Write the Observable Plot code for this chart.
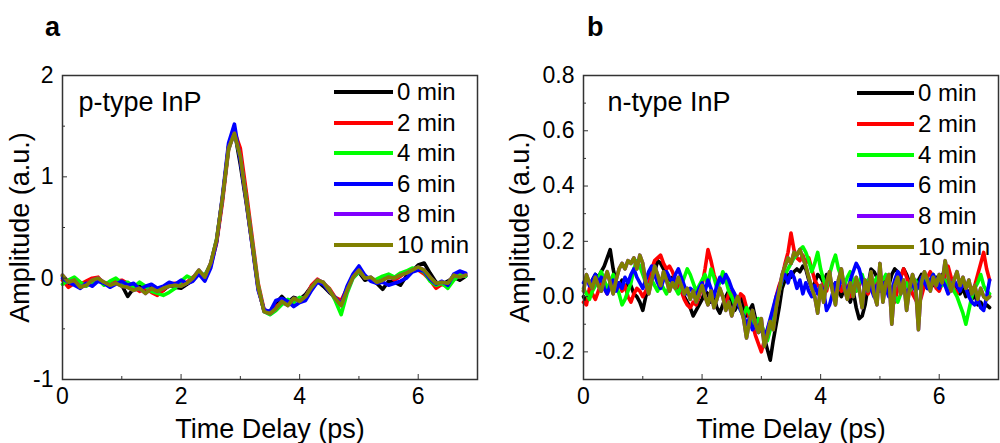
<!DOCTYPE html>
<html><head><meta charset="utf-8">
<script src="https://cdn.jsdelivr.net/npm/d3@7"></script>
<script src="https://cdn.jsdelivr.net/npm/@observablehq/plot@0.6"></script>
<style>
body{margin:0;background:#fff;font-family:"Liberation Sans",Arial,sans-serif;}
#wrap{position:relative;width:1000px;height:443px;overflow:hidden;background:#fff}
.panel{position:absolute;top:0}
.letter{position:absolute;font-weight:bold;font-size:27px;line-height:1}
.row{position:absolute;display:flex;align-items:center;height:30px;white-space:nowrap;font-size:24px;color:#000}
.swatch{display:inline-block;height:4px;margin-right:4px}
</style></head><body><div id="wrap"></div>
<script>
// ---- Series metadata ----
const seriesNames = ["0 min", "2 min", "4 min", "6 min", "8 min", "10 min"];
const seriesColors = ["#000000", "#ff0000", "#00ff00", "#0000ff", "#8000ff", "#808000"];

// ---- Panel a: p-type InP, sampled every 0.1 ps from 0 ----
const stepA = 0.1;
const a0 = [0.02,-0.05,-0.03,-0.08,-0.06,-0.03,-0.01,-0.05,-0.06,-0.04,
 -0.07,-0.18,-0.10,-0.08,-0.12,-0.09,-0.11,-0.12,-0.07,-0.09,
 -0.10,-0.06,-0.02,0.05,0.02,0.14,0.37,0.79,1.30,1.45,
 1.12,0.74,0.33,-0.10,-0.32,-0.33,-0.25,-0.18,-0.24,-0.19,
 -0.21,-0.16,-0.08,-0.03,-0.08,-0.14,-0.19,-0.25,-0.10,0.02,
 0.06,-0.02,0.00,-0.05,-0.11,-0.03,-0.04,-0.07,0.02,0.07,
 0.13,0.15,0.05,-0.04,-0.06,-0.03,0.01,-0.02,0.02];
const a2 = [-0.02,-0.09,-0.05,-0.06,-0.03,0.00,0.01,-0.06,-0.04,-0.03,
 -0.02,-0.05,-0.09,-0.13,-0.10,-0.14,-0.17,-0.12,-0.06,-0.05,
 -0.07,-0.04,0.01,0.04,0.00,0.12,0.35,0.76,1.26,1.45,
 1.28,0.85,0.40,-0.05,-0.31,-0.34,-0.28,-0.24,-0.26,-0.22,
 -0.20,-0.19,-0.07,-0.01,-0.05,-0.10,-0.19,-0.22,-0.10,0.03,
 0.07,0.01,-0.01,-0.03,0.00,0.03,-0.02,0.02,0.06,0.09,
 0.08,0.04,-0.02,-0.10,-0.06,-0.08,0.01,0.05,0.04];
const a4 = [-0.06,-0.02,0.01,-0.04,-0.08,-0.04,-0.01,-0.07,-0.03,0.00,
 -0.05,-0.04,-0.09,-0.04,-0.08,-0.13,-0.15,-0.17,-0.14,-0.10,
 -0.03,0.02,-0.01,0.06,0.03,0.14,0.39,0.80,1.27,1.44,
 1.18,0.79,0.36,-0.07,-0.33,-0.36,-0.32,-0.26,-0.21,-0.24,
 -0.19,-0.20,-0.10,-0.03,-0.05,-0.11,-0.22,-0.36,-0.15,0.00,
 0.06,0.02,-0.02,-0.01,0.02,0.04,0.01,0.05,0.07,0.10,
 0.09,0.06,-0.03,-0.07,-0.05,-0.10,-0.02,0.03,0.02];
const a6 = [0.00,-0.04,-0.07,-0.10,-0.05,-0.08,-0.03,-0.05,-0.09,-0.06,
 -0.03,-0.07,-0.05,-0.11,-0.08,-0.06,-0.10,-0.08,-0.04,-0.06,
 -0.02,-0.05,-0.03,0.04,-0.03,0.10,0.36,0.82,1.33,1.52,
 1.16,0.76,0.32,-0.12,-0.31,-0.33,-0.22,-0.20,-0.23,-0.28,
 -0.24,-0.22,-0.12,-0.04,-0.06,-0.13,-0.19,-0.26,-0.08,0.04,
 0.12,0.03,-0.03,-0.05,-0.04,-0.07,-0.05,-0.03,0.00,0.06,
 0.08,0.07,-0.01,-0.06,-0.03,-0.07,0.04,0.07,0.05];
const a10 = [0.03,-0.04,-0.02,-0.09,-0.07,-0.02,0.00,-0.04,-0.07,-0.05,
 -0.08,-0.09,-0.12,-0.10,-0.15,-0.10,-0.13,-0.10,-0.08,-0.07,
 -0.08,-0.05,0.00,0.08,0.01,0.15,0.38,0.80,1.28,1.43,
 1.20,0.77,0.34,-0.09,-0.33,-0.35,-0.30,-0.23,-0.27,-0.20,
 -0.23,-0.18,-0.09,-0.02,-0.04,-0.12,-0.20,-0.27,-0.12,0.01,
 0.08,0.00,0.01,-0.04,-0.02,0.01,0.00,0.03,0.05,0.08,
 0.11,0.08,0.01,-0.05,-0.04,-0.05,0.03,0.01,0.03];
const a8 = a10.slice(); // hidden beneath the 10 min trace in the original

// ---- Panel b: n-type InP, sampled every 0.05 ps from 0 ----
const stepB = 0.05;
const b0 = [0.00,-0.02,0.02,0.06,0.08,0.07,0.09,0.11,0.14,0.17,0.10,0.05,0.04,0.06,0.03,0.05,0.04,0.01,0.00,-0.02,
 -0.05,0.00,0.03,0.06,0.09,0.13,0.12,0.10,0.08,0.06,0.07,0.05,0.03,0.02,0.00,-0.02,-0.04,-0.07,-0.05,-0.03,
 -0.01,0.02,0.01,-0.02,0.00,-0.04,-0.06,-0.03,0.00,0.02,-0.02,-0.05,-0.03,0.00,-0.04,-0.07,-0.05,-0.03,-0.08,-0.10,
 -0.12,-0.15,-0.19,-0.23,-0.16,-0.10,-0.04,0.03,0.06,0.08,0.07,0.09,0.10,0.09,0.11,0.10,0.06,0.03,0.05,0.08,
 0.07,0.05,0.08,0.06,0.03,0.05,0.02,0.00,0.03,0.01,-0.02,0.02,-0.04,-0.08,-0.07,-0.03,0.04,0.10,0.09,0.07,
 0.05,0.03,0.06,0.04,0.08,0.10,0.09,0.07,0.10,0.08,0.05,0.07,0.04,0.06,0.08,0.05,0.03,0.06,0.04,0.07,
 0.05,0.08,0.06,0.03,0.05,0.02,0.04,0.01,0.03,0.00,0.02,-0.01,0.01,-0.03,-0.02,-0.04,-0.03,-0.04];
const b2 = [-0.02,-0.03,0.03,0.01,-0.01,0.02,0.05,0.03,0.01,0.04,0.06,0.03,0.05,0.02,0.04,0.00,-0.02,0.01,0.03,0.02,
 0.00,0.02,0.05,0.10,0.13,0.14,0.15,0.12,0.10,0.11,0.09,0.06,0.04,0.02,-0.01,-0.03,-0.04,-0.02,-0.03,0.00,
 0.04,0.10,0.17,0.13,0.08,0.05,0.02,0.00,-0.03,0.01,0.02,0.00,-0.02,0.01,0.00,-0.04,-0.08,-0.10,-0.14,-0.17,
 -0.20,-0.16,-0.12,-0.09,-0.05,0.00,0.04,0.07,0.12,0.16,0.23,0.17,0.14,0.13,0.15,0.12,0.14,0.10,0.06,0.04,
 0.03,0.05,0.02,0.06,0.03,0.01,0.04,0.02,0.06,0.03,0.00,0.05,0.02,0.04,0.07,0.03,0.01,0.04,0.02,0.05,
 0.08,0.05,0.02,0.04,0.01,-0.02,0.03,0.07,0.10,0.07,0.04,0.01,-0.01,-0.03,0.00,0.04,0.07,0.09,0.06,0.03,
 0.02,0.05,0.08,0.11,0.07,0.03,0.01,0.04,0.06,0.03,0.05,0.02,0.04,0.08,0.12,0.16,0.10,0.06];
const b4 = [0.03,0.01,-0.01,0.02,0.04,0.07,0.09,0.06,0.03,0.05,0.08,0.04,0.01,-0.03,-0.01,0.02,0.05,0.10,0.13,0.11,
 0.08,0.05,0.03,0.06,0.04,0.02,0.05,0.03,0.01,0.04,0.06,0.03,0.01,0.04,0.07,0.10,0.08,0.05,0.02,0.04,
 0.06,0.08,0.04,0.10,0.07,0.03,0.05,0.09,0.06,0.02,0.00,-0.03,-0.01,-0.05,-0.07,-0.04,-0.06,-0.09,-0.11,-0.08,
 -0.10,-0.13,-0.16,-0.12,-0.08,-0.03,0.02,0.06,0.08,0.10,0.12,0.14,0.15,0.17,0.18,0.16,0.13,0.09,0.12,0.16,
 0.10,0.06,0.03,0.08,0.12,0.15,0.10,0.07,0.04,0.07,0.09,0.05,0.02,0.05,0.08,0.04,0.06,0.03,0.05,0.07,
 0.04,0.06,0.08,0.05,0.02,0.00,-0.02,0.01,0.03,0.05,0.02,0.04,0.06,0.03,0.05,0.07,0.04,0.06,0.08,0.05,
 0.07,0.04,0.06,0.03,0.05,0.02,0.00,-0.03,-0.06,-0.10,-0.05,0.00,0.03,0.05,0.08,0.04,0.02,0.01];
const b6 = [0.05,0.07,0.04,0.06,0.08,0.05,0.07,0.03,0.01,0.04,0.06,0.02,0.05,0.03,0.07,0.05,0.08,0.10,0.07,0.05,
 0.03,0.06,0.09,0.11,0.08,0.05,0.03,0.06,0.09,0.07,0.05,0.08,0.10,0.07,0.04,0.01,0.03,0.02,0.00,0.03,
 0.05,0.02,0.06,0.03,0.00,0.04,0.07,0.05,0.08,0.06,0.03,0.01,-0.02,-0.05,-0.07,-0.10,-0.08,-0.12,-0.10,-0.13,
 -0.11,-0.14,-0.12,-0.08,-0.04,0.00,0.03,0.06,0.08,0.05,0.09,0.07,0.03,0.06,0.01,0.05,0.02,0.00,0.04,0.01,
 0.04,0.02,-0.05,-0.03,0.01,0.05,0.03,0.07,0.04,0.01,0.06,0.09,0.12,0.10,0.06,0.02,0.05,0.03,0.00,0.04,
 0.02,0.05,0.03,0.00,0.02,0.06,0.09,0.07,0.04,0.01,0.03,0.05,0.02,0.04,0.07,0.05,0.03,0.06,0.08,0.05,
 0.03,0.06,0.04,0.01,0.03,0.06,0.04,0.02,0.05,0.03,0.00,-0.02,-0.03,-0.01,-0.04,-0.05,0.00,0.06];
const b10 = [0.02,0.08,0.05,0.03,0.07,0.04,0.02,0.06,0.09,0.05,0.01,0.06,0.10,0.12,0.10,0.13,0.12,0.14,0.10,0.15,
 0.12,0.05,0.01,0.06,0.11,0.08,0.04,0.09,0.06,0.02,0.05,0.03,0.07,0.04,0.01,0.03,-0.01,0.02,-0.02,0.01,
 0.04,0.00,-0.03,0.02,-0.04,-0.01,0.03,0.00,-0.05,-0.02,-0.07,-0.03,0.00,-0.04,-0.08,-0.15,-0.09,-0.05,-0.10,-0.13,
 -0.08,-0.18,-0.14,-0.09,-0.12,-0.04,0.02,0.08,0.11,0.14,0.12,0.16,0.15,0.17,0.14,0.11,0.07,0.03,0.00,-0.06,
 0.04,-0.02,0.05,0.09,0.02,-0.03,0.06,0.10,0.03,-0.01,0.05,0.00,0.07,0.03,-0.04,0.06,0.02,0.09,0.01,-0.03,
 0.12,-0.02,0.05,0.08,-0.10,0.04,0.07,0.01,0.06,-0.05,0.03,0.08,0.04,-0.12,0.05,0.09,0.06,0.02,0.07,0.04,
 0.08,0.05,0.13,0.07,0.02,0.06,0.09,0.04,0.07,0.03,0.06,0.01,0.04,-0.01,0.03,0.00,-0.01,0.00];
const b8 = b10.slice();

// ---- Axis ticks ----
const xTicks = [0, 2, 4, 6];
const xMinor = [1, 3, 5];
const yTicksA = [-1, 0, 1, 2];
const yMinorA = [-0.5, 0.5, 1.5];
const yTicksB = [-0.2, 0.0, 0.2, 0.4, 0.6, 0.8];
const yMinorB = [-0.1, 0.1, 0.3, 0.5, 0.7];

function tidy(arrs, step) {
  const rows = [];
  arrs.forEach((arr, s) => arr.forEach((v, i) => rows.push({t: i * step, v, s: seriesNames[s]})));
  return rows;
}

const FONT = '"Liberation Sans", Arial, sans-serif';

function panel({rows, yDomain, yTicks, yMinor, yFmt, marginLeft, marginRight, tag, tagDx, yLabelOffset}) {
  return Plot.plot({
    width: 500, height: 443,
    marginLeft, marginRight, marginTop: 75, marginBottom: 64,
    style: {fontFamily: FONT, fontSize: "23px", color: "#000", background: "transparent", overflow: "visible"},
    x: {domain: [0, 7]},
    y: {domain: yDomain},
    color: {domain: seriesNames, range: seriesColors},
    marks: [
      Plot.line(rows, {x: "t", y: "v", z: "s", stroke: "s", strokeWidth: 3.6, strokeLinejoin: "round", strokeLinecap: "round"}),
      Plot.frame({stroke: "#333", strokeWidth: 1.5}),
      Plot.axisX({ticks: xTicks, tickSize: -5, tickPadding: 13, tickFormat: d => String(d), fontSize: 23, stroke: "#333", label: null}),
      Plot.axisX({ticks: [], label: "Time Delay (ps)", labelAnchor: "center", labelArrow: "none", labelOffset: 58, fontSize: 27}),
      Plot.axisX({ticks: xMinor, tickSize: -3, text: null, label: null, stroke: "#333"}),
      Plot.axisY({ticks: yTicks, tickSize: -5, tickPadding: 14, tickFormat: yFmt, fontSize: 23, stroke: "#333", label: null}),
      Plot.axisY({ticks: [], label: "Amplitude (a.u.)", labelAnchor: "center", labelArrow: "none", labelOffset: yLabelOffset, fontSize: 27}),
      Plot.axisY({ticks: yMinor, tickSize: -3, text: null, label: null, stroke: "#333"}),
      Plot.text([tag], {text: d => d, frameAnchor: "top-left", textAnchor: "start", lineAnchor: "top", dx: tagDx, dy: 16, fontSize: 27})
    ]
  });
}

const wrap = document.getElementById("wrap");

const plotA = panel({
  rows: tidy([a0, a2, a4, a6, a8, a10], stepA),
  yDomain: [-1, 2], yTicks: yTicksA, yMinor: yMinorA, yFmt: d => String(d),
  marginLeft: 62, marginRight: 23, tag: "p-type InP", tagDx: 16, yLabelOffset: 53
});
plotA.classList.add("panel"); plotA.style.left = "0px";
wrap.appendChild(plotA);

const plotB = panel({
  rows: tidy([b0, b2, b4, b6, b8, b10], stepB),
  yDomain: [-0.3, 0.8], yTicks: yTicksB, yMinor: yMinorB, yFmt: d => d.toFixed(1),
  marginLeft: 83, marginRight: 2, tag: "n-type InP", tagDx: 24, yLabelOffset: 74
});
plotB.classList.add("panel"); plotB.style.left = "500px";
wrap.appendChild(plotB);

// panel letters
[["a", 45], ["b", 587]].forEach(([l, x]) => {
  const d = document.createElement("div");
  d.className = "letter"; d.textContent = l;
  d.style.left = x + "px"; d.style.top = "14px";
  wrap.appendChild(d);
});

// legends
function legend(x0, lineW, y0, gap) {
  seriesNames.forEach((name, i) => {
    const r = document.createElement("div");
    r.className = "row";
    r.style.left = x0 + "px";
    r.style.top = (y0 + i * gap - 15) + "px";
    const sw = document.createElement("span");
    sw.className = "swatch"; sw.style.width = lineW + "px"; sw.style.background = seriesColors[i];
    const tx = document.createElement("span"); tx.textContent = name;
    r.appendChild(sw); r.appendChild(tx);
    wrap.appendChild(r);
  });
}
legend(334, 59, 92, 30.6);
legend(857, 57, 93, 30.8);
</script>
</body></html>
